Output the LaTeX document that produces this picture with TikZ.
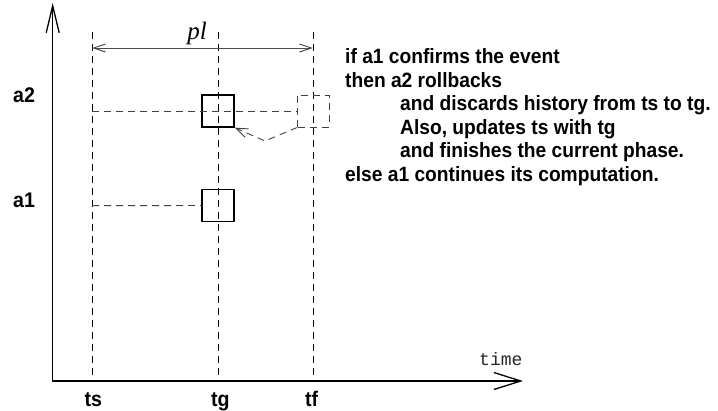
\documentclass[tikz,border=0pt]{standalone}
\usepackage{fontspec}
\setmainfont{Liberation Sans}
\newfontfamily\plfont{Liberation Serif}
\newfontfamily\timefont{Liberation Mono}
\usetikzlibrary{arrows.meta}
\newcommand{\tallbox}[1]{\scalebox{1}[1.08]{#1}}
\begin{document}
\begin{tikzpicture}[x=1pt,y=-1pt,
  axis/.style={line width=1.3pt,black},
  vdash/.style={line width=0.9pt,black,dash pattern=on 7pt off 5pt},
  hdash/.style={line width=0.9pt,black!75,dash pattern=on 7pt off 5pt},
  sq/.style={draw,line width=1.3pt,minimum width=32pt,minimum height=32pt,inner sep=0},
  dsq/.style={draw,line width=0.9pt,black!75,dash pattern=on 7pt off 5pt,minimum width=31.3pt,minimum height=32pt,inner sep=0},
  lbl/.style={font=\fontsize{19.6}{23}\selectfont\bfseries,inner sep=0,anchor=base west},
  txt/.style={font=\fontsize{19.2}{23}\selectfont\bfseries,inner sep=0,anchor=base west},
  smallbarb/.style={{Straight Barb[length=12pt,width=8pt]}-{Straight Barb[length=12pt,width=8pt]}},
]
\useasboundingbox (0,0) rectangle (718,410);

% axes
\coordinate (O) at (52.7,381);
\coordinate (ytop) at (52.7,3);
\coordinate (xend) at (523,381);
\draw[axis,{Straight Barb[length=27pt,width=13pt]}-{Straight Barb[length=27pt,width=17pt]}] (ytop) -- (O) -- (xend);

% vertical dashed lines
\coordinate (tsT) at (92,32);   \coordinate (tsB) at (92,381);
\coordinate (tgT) at (218,32);  \coordinate (tgB) at (218,381);
\coordinate (tfT) at (313,32);  \coordinate (tfB) at (313,381);
\draw[vdash] (tsT) -- (tsB);
\draw[vdash] (tgT) -- (tgB);
\draw[vdash] (tfT) -- (tfB);

% pl arrow
\coordinate (plL) at (92,48);
\coordinate (plR) at (313,48);
\draw[line width=1pt,black!70,smallbarb] (plL) -- (plR);
\node[inner sep=0,font=\plfont\itshape\fontsize{25}{28}\selectfont] (pl) at (197,33) {pl};

% squares
\node[sq] (s2) at (218,111) {};
\node[sq] (s1) at (218,205.5) {};
\node[dsq] (d2) at (313.3,111) {};

% horizontal dashed lines
\coordinate (h2) at (92,111);
\coordinate (h1) at (92,205.7);
\draw[hdash] (h2) -- (d2.west);
\draw[hdash] (h1) -- (s1.west);

% rollback connector
\coordinate (v) at (265,141);
\draw[hdash,-{Straight Barb[length=12pt,width=9pt]}] (d2.south west) -- (v) -- (s2.south east);

% labels
\node[lbl] (la2) at (13,102) {\tallbox{a2}};
\node[lbl] (la1) at (13,207) {\tallbox{a1}};
\node[lbl] (lts) at (84.5,406) {\tallbox{ts}};
\node[lbl] (ltg) at (211,406) {\tallbox{tg}};
\node[lbl] (ltf) at (305,406) {\tallbox{tf}};
\node[inner sep=0,anchor=base west,font=\timefont\fontsize{18}{20}\selectfont,black!85] (time) at (479,365) {time};

% text block
\node[txt] (t1) at (345,63.5) {\tallbox{if a1 confirms the event}};
\node[txt] (t2) at (345,87) {\tallbox{then a2 rollbacks}};
\node[txt] (t3) at (400,110.5) {\tallbox{and discards history from ts to tg.}};
\node[txt] (t4) at (400,134) {\tallbox{Also, updates ts with tg}};
\node[txt] (t5) at (400,157.5) {\tallbox{and finishes the current phase.}};
\node[txt] (t6) at (345,181) {\tallbox{else a1 continues its computation.}};
\end{tikzpicture}
\end{document}
